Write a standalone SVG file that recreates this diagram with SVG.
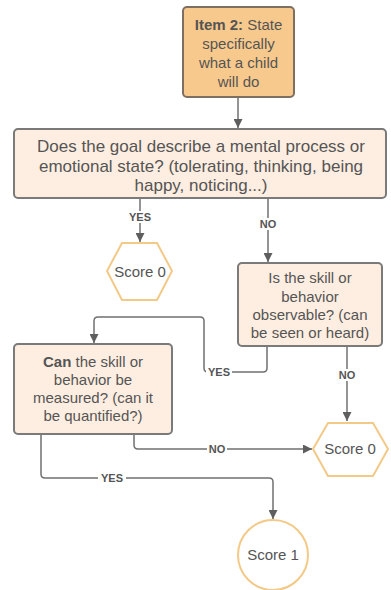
<svg xmlns="http://www.w3.org/2000/svg" width="391" height="590" viewBox="0 0 391 590">
<defs>
<style>
.box{fill:#fdeee1;stroke:#7a7a7a;stroke-width:2}
.start{fill:#f8c98c;stroke:#7d6f62;stroke-width:2}
.term{fill:#ffffff;stroke:#f3c987;stroke-width:2}
.t{font-family:"Liberation Sans",Arial,sans-serif;font-size:15px;fill:#555555;text-anchor:middle}
.q1{font-size:17px}
.b{font-weight:bold}
.lbl{font-family:"Liberation Sans",Arial,sans-serif;font-size:11px;font-weight:bold;fill:#555555;text-anchor:middle}
.lb{fill:#ffffff}
.c{fill:none;stroke:#707070;stroke-width:1.5;stroke-linejoin:round}
</style>
<marker id="ah" viewBox="0 0 10 10" refX="10" refY="5" markerWidth="9" markerHeight="9" markerUnits="userSpaceOnUse" orient="auto">
<path d="M0,0 L10,5 L0,10 z" fill="#5e5e5e"/>
</marker>
</defs>
<rect width="391" height="590" fill="#ffffff"/>

<g id="connectors">
<path class="c" d="M238,97 V128" marker-end="url(#ah)"/>
<path class="c" d="M140,198 V242" marker-end="url(#ah)"/>
<path class="c" d="M268,198 V262" marker-end="url(#ah)"/>
<path class="c" d="M267,346 V368 Q267,372 263,372 H208 Q204,372 204,368 V321 Q204,317 200,317 H98 Q94,317 94,321 V343" marker-end="url(#ah)"/>
<path class="c" d="M347,346 V421" marker-end="url(#ah)"/>
<path class="c" d="M134,434 V445 Q134,449 138,449 H312" marker-end="url(#ah)"/>
<path class="c" d="M41,434 V474 Q41,478 45,478 H269 Q273,478 273,482 V519" marker-end="url(#ah)"/>
<rect class="lb" x="126" y="211" width="28" height="12"/>
<text class="lbl" x="140" y="221">YES</text>
<rect class="lb" x="258" y="218" width="20" height="12"/>
<text class="lbl" x="268" y="228">NO</text>
<rect class="lb" x="206" y="366" width="26" height="12"/>
<text class="lbl" x="219" y="376">YES</text>
<rect class="lb" x="337" y="369" width="20" height="12"/>
<text class="lbl" x="347" y="379">NO</text>
<rect class="lb" x="207" y="443" width="20" height="12"/>
<text class="lbl" x="217" y="453">NO</text>
<rect class="lb" x="98" y="472" width="28" height="12"/>
<text class="lbl" x="112" y="482">YES</text>
</g>

<g id="item2">
<rect class="start" x="183" y="7" width="111" height="90" rx="4"/>
<text class="t" x="238.5" y="30"><tspan class="b">Item 2:</tspan> State</text>
<text class="t" x="238.5" y="49">specifically</text>
<text class="t" x="238.5" y="68">what a child</text>
<text class="t" x="238.5" y="87">will do</text>
</g>

<g id="q1">
<rect class="box" x="14" y="129" width="372" height="69" rx="4"/>
<text class="t q1" x="201" y="152">Does the goal describe a mental process or</text>
<text class="t q1" x="201" y="172">emotional state? (tolerating, thinking, being</text>
<text class="t q1" x="201" y="191">happy, noticing...)</text>
</g>

<g id="score0a">
<polygon class="term" points="107,271 122,243 157,243 172,271 157,300 122,300"/>
<text class="t" x="140" y="277">Score 0</text>
</g>

<g id="q2">
<rect class="box" x="238" y="263" width="144" height="83" rx="4"/>
<text class="t" x="310" y="283">Is the skill or</text>
<text class="t" x="310" y="302">behavior</text>
<text class="t" x="310" y="320">observable? (can</text>
<text class="t" x="310" y="338">be seen or heard)</text>
</g>

<g id="q3">
<rect class="box" x="14" y="344" width="158" height="90" rx="4"/>
<text class="t" x="93" y="367"><tspan class="b">Can</tspan> the skill or</text>
<text class="t" x="93" y="385">behavior be</text>
<text class="t" x="93" y="403">measured? (can it</text>
<text class="t" x="93" y="421">be quantified?)</text>
</g>

<g id="score0b">
<polygon class="term" points="313,449 328,423 373,423 388,449 373,476 328,476"/>
<text class="t" x="350" y="454">Score 0</text>
</g>

<g id="score1">
<circle class="term" cx="273" cy="555" r="35"/>
<text class="t" x="273" y="560">Score 1</text>
</g>
</svg>
